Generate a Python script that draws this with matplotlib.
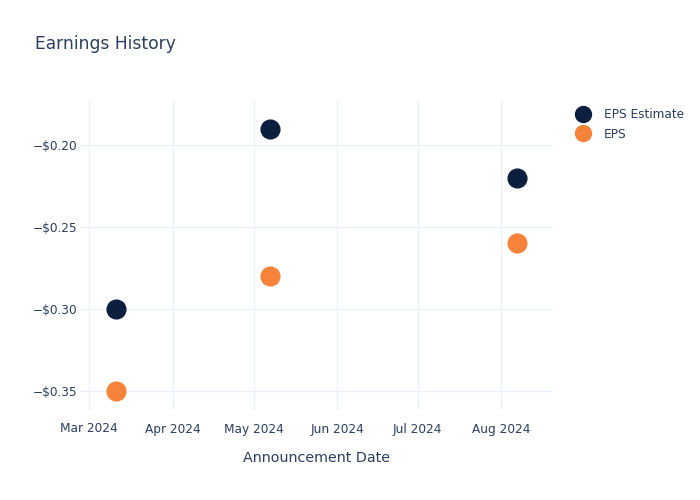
import matplotlib
matplotlib.use("Agg")
import matplotlib.pyplot as plt
import matplotlib.dates as mdates
import numpy as np
from datetime import datetime

# данные
dates = ["2024-03-11", "2024-05-07", "2024-08-07"]
eps_estimate = [-0.30, -0.19, -0.22]
eps_actual = [-0.35, -0.28, -0.26]

text_color = "#2a3f5f"
grid_color = "#ebf0f8"
navy = "#0c1f3f"
orange = "#f7833a"

plt.rcParams["font.family"] = ["DejaVu Sans"]

x = [datetime.strptime(d, "%Y-%m-%d") for d in dates]

fig = plt.figure(figsize=(7, 5), dpi=100)
ax = fig.add_axes([80 / 700, 1 - 410 / 500, (553 - 80) / 700, 310 / 500])

ax.plot(x, eps_estimate, linestyle="none", marker="o", ms=13.5, color=navy, label="EPS Estimate", zorder=3)
ax.plot(x, eps_actual, linestyle="none", marker="o", ms=13.5, color=orange, label="EPS", zorder=3)

ax.set_xlim(datetime(2024, 2, 26, 13), datetime(2024, 8, 20, 5))
ax.set_ylim(-0.3616, -0.1726)

ax.xaxis.set_major_locator(mdates.MonthLocator())
ax.xaxis.set_major_formatter(mdates.DateFormatter("%b %Y"))
ax.set_yticks([-0.35, -0.30, -0.25, -0.20])
ax.set_yticklabels(["\u2212$%.2f" % abs(v) for v in [-0.35, -0.30, -0.25, -0.20]])

ax.grid(True, color=grid_color, linewidth=1)
ax.set_axisbelow(True)
for s in ax.spines.values():
    s.set_visible(False)
ax.tick_params(length=0, labelsize=8.7, labelcolor=text_color)
ax.tick_params(axis="y", pad=2)
ax.tick_params(axis="x", pad=9)

ax.set_xlabel("Announcement Date", fontsize=10.3, color=text_color, labelpad=11)

fig.text(35 / 700, 1 - 44 / 500, "Earnings History", fontsize=12.3, color=text_color, va="center")

leg = fig.legend(loc="upper left", bbox_to_anchor=(565 / 700, 1 - 97 / 500), frameon=False,
                 fontsize=8.7, labelcolor=text_color, handletextpad=1.1, labelspacing=0.55,
                 markerscale=0.85, handlelength=1.2)

fig.savefig("out.png", dpi=100)
